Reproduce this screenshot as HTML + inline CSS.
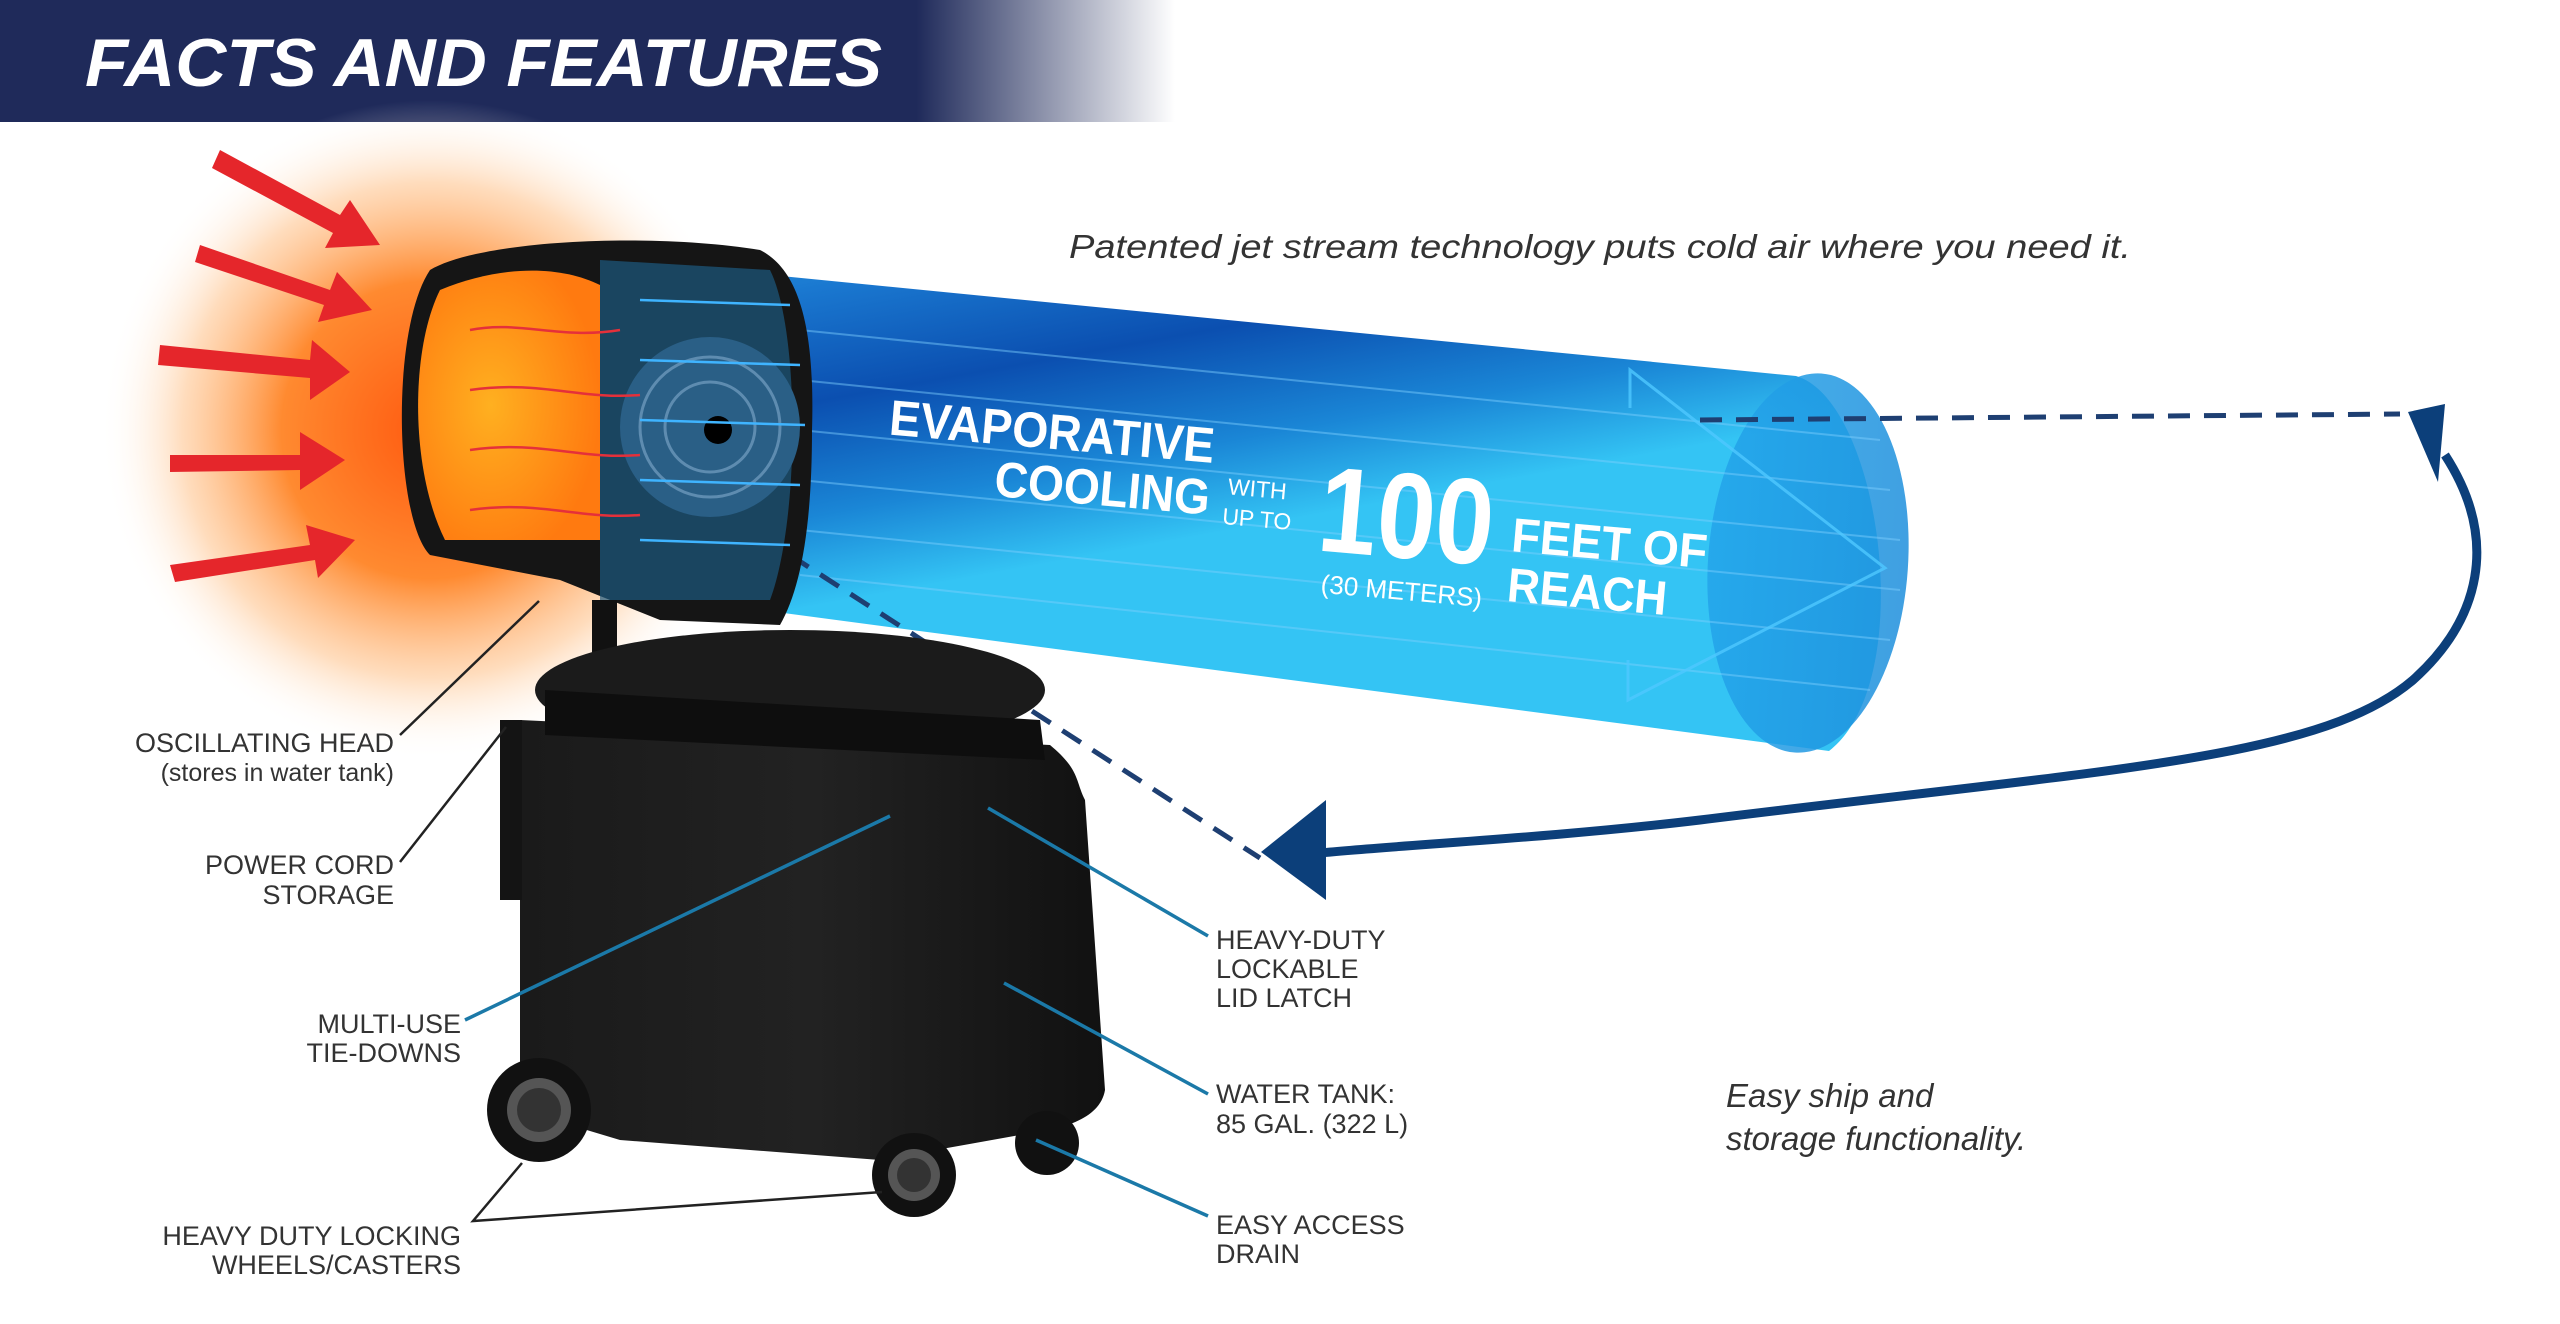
<!DOCTYPE html>
<html><head><meta charset="utf-8"><style>
html,body{margin:0;padding:0;background:#fff}
svg{display:block}
text{font-family:"Liberation Sans",sans-serif}
</style></head><body>
<svg width="2560" height="1324" viewBox="0 0 2560 1324" xmlns="http://www.w3.org/2000/svg">
<defs>
<linearGradient id="ban" x1="0" x2="1" y1="0" y2="0">
<stop offset="0" stop-color="#1f2a5a"/><stop offset="0.78" stop-color="#1f2a5a"/><stop offset="1" stop-color="#ffffff"/></linearGradient>
<radialGradient id="glow" cx="430" cy="430" r="330" gradientUnits="userSpaceOnUse">
<stop offset="0" stop-color="#ff5a10"/><stop offset="0.45" stop-color="#ff8a30"/><stop offset="0.75" stop-color="#ffc590" stop-opacity="0.6"/><stop offset="1" stop-color="#ffffff" stop-opacity="0"/></radialGradient>
<linearGradient id="cyl" gradientUnits="userSpaceOnUse" x1="0" y1="300" x2="80" y2="740">
<stop offset="0" stop-color="#39b6ef"/><stop offset="0.3" stop-color="#1a78d0"/><stop offset="0.55" stop-color="#0b4fb0"/><stop offset="0.8" stop-color="#1a86d6"/><stop offset="1" stop-color="#34c4f4"/></linearGradient>
<linearGradient id="cap" x1="0" x2="1"><stop offset="0" stop-color="#23a4ea"/><stop offset="1" stop-color="#1e8fdc"/></linearGradient>
<radialGradient id="orng" cx="0.4" cy="0.5" r="0.6"><stop offset="0" stop-color="#ffb020"/><stop offset="1" stop-color="#ff7a10"/></radialGradient>
<linearGradient id="body" x1="0" x2="1"><stop offset="0" stop-color="#1a1a1a"/><stop offset="0.5" stop-color="#222"/><stop offset="1" stop-color="#111"/></linearGradient>
</defs>
<rect x="0" y="0" width="1175" height="122" fill="url(#ban)"/>
<text x="85" y="86" font-size="68" font-weight="bold" font-style="italic" fill="#fff" textLength="797" lengthAdjust="spacingAndGlyphs">FACTS AND FEATURES</text>
<text x="1069" y="258" font-size="33" font-style="italic" fill="#333" textLength="1062" lengthAdjust="spacingAndGlyphs">Patented jet stream technology puts cold air where you need it.</text>

<circle cx="430" cy="430" r="330" fill="url(#glow)"/>
<g fill="#e5262b">
<polygon points="220,150 340,215 350,200 380,245 325,248 333,233 212,168"/>
<polygon points="200,245 330,290 337,272 372,310 318,322 324,305 195,262"/>
<polygon points="160,345 310,360 312,340 350,372 310,400 310,378 158,365"/>
<polygon points="170,455 300,455 300,432 345,460 300,490 300,470 170,472"/>
<polygon points="170,565 310,545 306,525 355,540 318,578 315,560 175,582"/>
</g>
<path d="M700,268 L1796,376 C1880,400 1920,680 1829,751 L700,602 Z" fill="url(#cyl)"/>
<ellipse cx="1808" cy="563" rx="100" ry="190" fill="url(#cap)" opacity="0.85" transform="rotate(4 1808 563)"/>
<g stroke="#7fd0ff" stroke-width="2" opacity="0.45">
<line x1="800" y1="330" x2="1880" y2="440"/><line x1="800" y1="380" x2="1890" y2="490"/><line x1="800" y1="430" x2="1900" y2="540"/><line x1="800" y1="480" x2="1900" y2="590"/><line x1="800" y1="530" x2="1890" y2="640"/><line x1="800" y1="575" x2="1870" y2="690"/>
</g>
<polyline points="1630,408 1630,370 1885,568 1628,700 1628,660" fill="none" stroke="#4fc8ff" stroke-width="3" opacity="0.8"/>
<g transform="rotate(5 1200 520)" fill="#fff" font-weight="bold">
<text x="882" y="462" font-size="50" textLength="326" lengthAdjust="spacingAndGlyphs">EVAPORATIVE</text>
<text x="992" y="514" font-size="50" textLength="216" lengthAdjust="spacingAndGlyphs">COOLING</text>
<text x="1225" y="492" font-size="23" font-weight="normal">WITH</text>
<text x="1222" y="522" font-size="23" font-weight="normal">UP TO</text>
<text x="1318" y="540" font-size="122" textLength="175" lengthAdjust="spacingAndGlyphs">100</text>
<text x="1512" y="524" font-size="48" textLength="196" lengthAdjust="spacingAndGlyphs">FEET OF</text>
<text x="1512" y="574" font-size="48" textLength="160" lengthAdjust="spacingAndGlyphs">REACH</text>
<text x="1326" y="582" font-size="26" font-weight="normal">(30 METERS)</text>
</g>
<g stroke="#1e3f72" stroke-width="5" stroke-dasharray="22,14" fill="none">
<line x1="1700" y1="420" x2="2400" y2="414"/>
<line x1="790" y1="555" x2="1260" y2="858"/>
</g>
<path d="M2445,455 C2500,540 2480,620 2413,680 C2320,760 2100,770 1700,820 C1550,838 1400,845 1320,853" fill="none" stroke="#0c3f7a" stroke-width="9"/>
<polygon points="2408,412 2445,404 2438,482" fill="#0c3f7a"/>
<polygon points="1261,852 1326,800 1326,900" fill="#0c3f7a"/>

<path d="M430,270 C480,240 650,232 760,250 C800,270 815,330 812,430 C812,530 800,590 780,625 L660,620 L560,580 L430,555 C395,520 390,330 430,270 Z" fill="#151515"/>
<path d="M440,290 C500,265 560,265 600,285 L600,540 L445,540 C410,470 410,350 440,290 Z" fill="url(#orng)"/>
<path d="M600,260 L770,270 C800,330 800,520 770,600 L600,600 Z" fill="#1c5a80" opacity="0.7"/>
<circle cx="710" cy="427" r="90" fill="#2a5f86"/>
<circle cx="710" cy="427" r="70" fill="none" stroke="#5e8cb0" stroke-width="3"/>
<circle cx="710" cy="427" r="45" fill="none" stroke="#5e8cb0" stroke-width="3"/>
<circle cx="718" cy="430" r="14" fill="#000"/>
<g stroke="#e5303a" stroke-width="2.5" fill="none">
<path d="M470,330 C520,320 560,340 620,330"/><path d="M470,390 C540,380 580,400 640,395"/><path d="M470,450 C540,440 580,460 640,455"/><path d="M470,510 C540,500 580,520 640,515"/>
</g>
<g stroke="#3fb4ff" stroke-width="2.5">
<line x1="640" y1="300" x2="790" y2="305"/><line x1="640" y1="360" x2="800" y2="365"/><line x1="640" y1="420" x2="805" y2="425"/><line x1="640" y1="480" x2="800" y2="485"/><line x1="640" y1="540" x2="790" y2="545"/>
</g>
<rect x="592" y="600" width="25" height="70" fill="#111"/>

<ellipse cx="790" cy="690" rx="255" ry="60" fill="#1b1b1b"/>
<path d="M520,720 L1050,745 C1080,770 1075,780 1085,800 L1105,1090 C1100,1120 1060,1130 1020,1135 L880,1160 L620,1140 L520,1110 Z" fill="url(#body)"/>
<path d="M545,690 L1040,720 L1045,760 L545,735 Z" fill="#0e0e0e"/>
<rect x="500" y="720" width="22" height="180" fill="#141414"/>
<circle cx="539" cy="1110" r="52" fill="#111"/><circle cx="539" cy="1110" r="32" fill="#555"/><circle cx="539" cy="1110" r="22" fill="#333"/>
<circle cx="914" cy="1175" r="42" fill="#111"/><circle cx="914" cy="1175" r="26" fill="#555"/><circle cx="914" cy="1175" r="17" fill="#333"/>
<circle cx="1047" cy="1143" r="32" fill="#111"/>

<g stroke="#222" stroke-width="2.5" fill="none">
<line x1="400" y1="735" x2="539" y2="601"/>
<line x1="400" y1="862" x2="506" y2="727"/>
<polyline points="522,1163 473,1221 882,1192"/>
</g>
<g stroke="#1b79a8" stroke-width="3.5" fill="none">
<line x1="465" y1="1020" x2="890" y2="816"/>
<line x1="1208" y1="936" x2="988" y2="808"/>
<line x1="1208" y1="1094" x2="1004" y2="983"/>
<line x1="1208" y1="1216" x2="1036" y2="1140"/>
</g>
<g fill="#333" font-size="27">
<g text-anchor="end">
<text x="394" y="752">OSCILLATING HEAD</text>
<text x="394" y="781" font-size="25">(stores in water tank)</text>
<text x="394" y="874">POWER CORD</text>
<text x="394" y="904">STORAGE</text>
<text x="461" y="1033">MULTI-USE</text>
<text x="461" y="1062">TIE-DOWNS</text>
<text x="461" y="1245">HEAVY DUTY LOCKING</text>
<text x="461" y="1274">WHEELS/CASTERS</text>
</g>
<text x="1216" y="949">HEAVY-DUTY</text>
<text x="1216" y="978">LOCKABLE</text>
<text x="1216" y="1007">LID LATCH</text>
<text x="1216" y="1103">WATER TANK:</text>
<text x="1216" y="1133">85 GAL. (322 L)</text>
<text x="1216" y="1234">EASY ACCESS</text>
<text x="1216" y="1263">DRAIN</text>
<text x="1726" y="1107" font-size="33" font-style="italic">Easy ship and</text>
<text x="1726" y="1150" font-size="33" font-style="italic">storage functionality.</text>
</g>
</svg>
</body></html>
